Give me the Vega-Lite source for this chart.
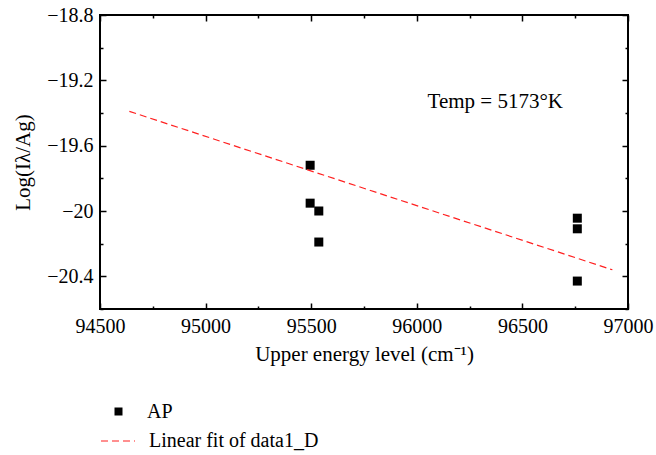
{
  "$schema": "https://vega.github.io/schema/vega-lite/v6.json",
  "width": 528,
  "height": 294,
  "autosize": {"type": "none"},
  "padding": {"left": 100, "top": 15, "right": 28, "bottom": 146},
  "config": {
    "font": "Liberation Serif",
    "view": {"stroke": "black", "strokeWidth": 2},
    "axis": {
      "grid": false,
      "domain": false,
      "labelFont": "Liberation Serif",
      "titleFont": "Liberation Serif",
      "labelFontSize": 20,
      "titleFontSize": 21,
      "titleFontWeight": "normal",
      "labelColor": "black",
      "titleColor": "black",
      "tickColor": "black",
      "tickWidth": 1.5,
      "labelFlush": false
    },
    "legend": {
      "labelFont": "Liberation Serif",
      "labelFontSize": 20,
      "labelColor": "black",
      "labelLimit": 0,
      "padding": 0,
      "offset": 0
    }
  },
  "datasets": {
    "points": [
      {"energy": 95495, "logval": -19.72, "series": "AP"},
      {"energy": 95495, "logval": -19.952, "series": "AP"},
      {"energy": 95536, "logval": -20.0, "series": "AP"},
      {"energy": 95536, "logval": -20.19, "series": "AP"},
      {"energy": 96760, "logval": -20.044, "series": "AP"},
      {"energy": 96760, "logval": -20.109, "series": "AP"},
      {"energy": 96760, "logval": -20.429, "series": "AP"}
    ],
    "fit": [
      {"energy": 94639, "logval": -19.39, "series": "Linear fit of data1_D"},
      {"energy": 96926, "logval": -20.36, "series": "Linear fit of data1_D"}
    ],
    "note": [
      {"energy": 96051, "logval": -19.368, "label": "Temp = 5173°K"}
    ]
  },
  "layer": [
    {
      "data": {"name": "points"},
      "mark": {"type": "point", "shape": "square", "filled": true, "size": 81, "opacity": 1},
      "encoding": {
        "x": {
          "field": "energy", "type": "quantitative",
          "scale": {"domain": [94500, 97000], "nice": false, "zero": false},
          "axis": {
            "orient": "bottom",
            "title": "Upper energy level (cm⁻¹)",
            "values": [94500, 94750, 95000, 95250, 95500, 95750, 96000, 96250, 96500, 96750, 97000],
            "format": "d",
            "labelExpr": "datum.value % 500 === 0 ? datum.label : ''",
            "tickSize": {"condition": {"test": "datum.value % 500 === 0", "value": -6}, "value": -3},
            "labelPadding": 13,
            "titlePadding": 7
          }
        },
        "y": {
          "field": "logval", "type": "quantitative",
          "scale": {"domain": [-20.6, -18.8], "nice": false, "zero": false},
          "axis": {
            "orient": "left",
            "title": "Log(Iλ/Ag)",
            "values": [-20.6, -20.4, -20.2, -20, -19.8, -19.6, -19.4, -19.2, -19, -18.8],
            "format": ".1~f",
            "labelExpr": "indexof([-18.8, -19.2, -19.6, -20, -20.4], datum.value) >= 0 ? datum.label : ''",
            "tickSize": {"condition": {"test": "indexof([-18.8, -19.2, -19.6, -20, -20.4], datum.value) >= 0", "value": -6}, "value": -3},
            "labelPadding": 13,
            "titlePadding": 13
          }
        },
        "color": {
          "field": "series", "type": "nominal",
          "scale": {"domain": ["AP"], "range": ["black"]},
          "legend": {
            "orient": "none", "legendX": 8.5, "legendY": 386.5,
            "title": null, "symbolType": "square", "symbolSize": 64,
            "symbolStrokeWidth": 0, "labelOffset": 18.5
          }
        }
      }
    },
    {
      "data": {"name": "fit"},
      "mark": {"type": "line", "color": "#ff2020", "strokeWidth": 1.2},
      "encoding": {
        "x": {
          "field": "energy", "type": "quantitative",
          "scale": {"domain": [94500, 97000], "nice": false, "zero": false},
          "axis": {
            "orient": "top", "title": null, "labels": false,
            "values": [94500, 94750, 95000, 95250, 95500, 95750, 96000, 96250, 96500, 96750, 97000],
            "tickSize": {"condition": {"test": "datum.value % 500 === 0", "value": -6}, "value": -3}
          }
        },
        "y": {
          "field": "logval", "type": "quantitative",
          "scale": {"domain": [-20.6, -18.8], "nice": false, "zero": false},
          "axis": {
            "orient": "right", "title": null, "labels": false,
            "values": [-20.6, -20.4, -20.2, -20, -19.8, -19.6, -19.4, -19.2, -19, -18.8],
            "tickSize": {"condition": {"test": "indexof([-18.8, -19.2, -19.6, -20, -20.4], datum.value) >= 0", "value": -6}, "value": -3}
          }
        },
        "strokeDash": {
          "field": "series", "type": "nominal",
          "scale": {"domain": ["Linear fit of data1_D"], "range": [[7, 4]]},
          "legend": {
            "orient": "none", "legendX": 0, "legendY": 408,
            "title": null, "symbolType": "stroke", "symbolSize": 1156,
            "symbolStrokeColor": "#ff2020", "symbolStrokeWidth": 1.2, "labelOffset": 13
          }
        }
      }
    },
    {
      "data": {"name": "note"},
      "mark": {"type": "text", "align": "left", "baseline": "alphabetic", "fontSize": 21, "font": "Liberation Serif", "color": "black"},
      "encoding": {
        "x": {"field": "energy", "type": "quantitative", "scale": {"domain": [94500, 97000], "nice": false, "zero": false}, "axis": null},
        "y": {"field": "logval", "type": "quantitative", "scale": {"domain": [-20.6, -18.8], "nice": false, "zero": false}, "axis": null},
        "text": {"field": "label"}
      }
    }
  ],
  "resolve": {"axis": {"x": "independent", "y": "independent"}}
}
